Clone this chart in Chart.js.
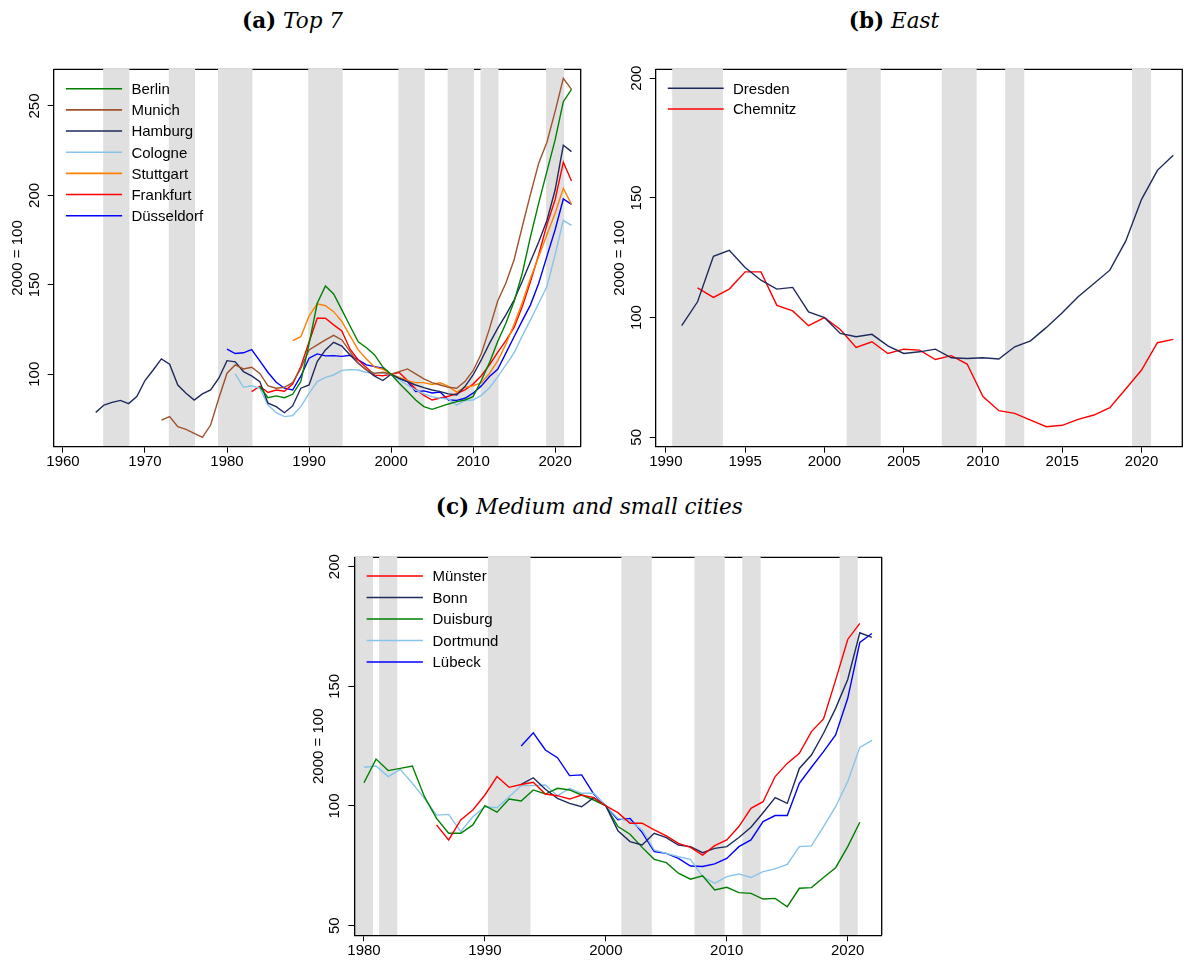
<!DOCTYPE html>
<html><head><meta charset="utf-8">
<script src="https://cdn.jsdelivr.net/npm/chart.js@4.4.1/dist/chart.umd.min.js"></script>
<style>
html,body{margin:0;padding:0;background:#fff;}
body{width:1184px;height:960px;position:relative;overflow:hidden;}
canvas{position:absolute;}
.ttl{position:absolute;white-space:nowrap;font-family:"DejaVu Serif",serif;font-size:21.5px;line-height:21.5px;color:#000;transform:translateX(-50%);}
.ttl b{font-weight:bold;font-style:normal;}
.ttl i{font-style:italic;font-weight:normal;}
</style></head><body>
<div class="ttl" style="left:292.5px;top:10.3px"><b>(a)</b> <i>Top 7</i></div>
<div class="ttl" style="left:894px;top:10.3px"><b>(b)</b> <i>East</i></div>
<div class="ttl" style="left:589.3px;top:496.3px"><b>(c)</b> <i>Medium and small cities</i></div>
<canvas id="ca" width="592" height="440" style="left:0px;top:40px"></canvas>
<canvas id="cb" width="584" height="440" style="left:600px;top:40px"></canvas>
<canvas id="cc" width="592" height="440" style="left:300px;top:520px"></canvas>
<script>
// ---------- Panel (a): Top 7 ----------
const yearsA = [1964,1965,1966,1967,1968,1969,
  1970,1971,1972,1973,1974,1975,1976,1977,1978,1979,
  1980,1981,1982,1983,1984,1985,1986,1987,1988,1989,
  1990,1991,1992,1993,1994,1995,1996,1997,1998,1999,
  2000,2001,2002,2003,2004,2005,2006,2007,2008,2009,
  2010,2011,2012,2013,2014,2015,2016,2017,2018,2019,
  2020,2021,2022];
const berlin = [null,null,null,null,null,null,
  null,null,null,null,null,null,null,null,null,null,
  null,null,null,null,93.0,86.9,87.9,86.9,88.8,95.9,
  117.0,139.7,149.4,144.9,136.0,127.0,118.2,114.8,110.8,104.0,
  100,95.0,90.3,85.6,81.9,80.4,81.9,83.4,84.7,85.6,
  87.5,96.5,106.5,118.3,128.5,140.7,156.5,177.0,195.7,213.4,
  231.0,252.4,259.3];
const munich = [null,null,null,null,null,null,
  null,null,74.4,76.3,70.7,69.2,67.0,64.7,71.6,86.6,
  100.6,105.2,103.0,103.9,100.5,93.5,92.2,92.7,95.3,103.3,
  113.6,116.4,119.2,121.8,119.2,112.6,106.1,102.4,100.5,101.1,
  100,101.5,103.0,100.2,97.4,95.3,94.0,92.7,92.2,95.9,
  102.0,111.5,125.5,141.0,151.0,164.0,182.6,200.7,218.0,229.7,
  247.0,265.5,259.3];
const hamburg = [78.7,82.8,84.3,85.4,83.6,87.5,
  96.5,102.4,108.6,105.6,94.0,89.4,85.6,89.0,91.2,97.8,
  107.6,106.9,101.5,99.1,95.9,83.8,81.9,78.5,82.3,92.2,
  94.0,107.1,113.6,117.9,115.8,110.8,106.1,102.4,99.0,96.5,
  100,97.7,95.9,94.0,92.5,91.2,90.3,89.0,88.4,93.1,
  99.6,108.0,117.3,125.7,133.2,141.5,152.0,163.0,174.0,186.0,
  203.0,228.0,224.5];
const cologne = [null,null,null,null,null,null,
  null,null,null,null,null,null,null,null,null,null,
  null,100.2,92.7,93.6,92.2,82.8,78.5,76.3,76.9,81.9,
  89.3,95.9,98.3,99.6,102.2,102.6,102.4,101.0,100.8,100.6,
  100,96.8,94.0,91.2,89.0,87.5,86.6,86.2,82.8,85.3,
  85.6,88.2,92.5,98.5,105.2,112.0,121.5,130.4,139.7,149.0,
  166.8,186.0,183.2];
const stuttgart = [null,null,null,null,null,null,
  null,null,null,null,null,null,null,null,null,null,
  null,null,null,null,null,null,null,null,118.8,121.0,
  132.5,139.4,138.3,135.0,129.5,121.5,113.6,108.5,104.0,102.8,
  100,98.3,96.4,95.3,95.3,94.3,95.2,93.2,90.0,92.6,
  93.5,95.3,100.5,107.5,116.8,128.0,140.0,153.7,165.9,178.0,
  190.0,204.0,195.0];
const frankfurt = [null,null,null,null,null,null,
  null,null,null,null,null,null,null,null,null,null,
  null,null,null,90.3,93.3,89.8,91.2,90.5,94.5,104.3,
  118.0,131.3,131.3,127.6,124.2,114.0,108.0,103.8,99.5,99.2,
  100,101.0,96.5,91.7,88.2,85.6,86.7,87.7,89.2,91.2,
  94.5,99.2,105.2,112.2,118.8,126.2,137.9,151.9,166.8,183.6,
  197.6,218.5,208.1];
const dusseldorf = [null,null,null,null,null,null,
  null,null,null,null,null,null,null,null,null,null,
  114.0,111.6,112.0,113.8,107.5,101.0,95.5,92.2,91.2,98.9,
  109.0,111.4,110.3,110.4,110.0,110.6,108.0,105.2,104.3,103.4,
  100,97.5,95.9,90.3,90.7,89.5,90.0,85.6,85.4,86.6,
  89.4,93.5,98.7,102.8,111.8,121.0,130.0,138.8,150.9,165.9,
  180.8,198.0,195.0];
const xTicksA = [1960,1970,1980,1990,2000,2010,2020];
const yTicksA = [100,150,200,250];
const bandsA = [[1964.9,1968.1],[1972.9,1976.1],[1978.9,1983.1],[1989.9,1994.1],
  [2000.9,2004.1],[2006.9,2010.1],[2010.9,2013.1],[2018.9,2021.1]];

// ---------- Panel (b): East ----------
const yearsB = [1991,1992,1993,1994,1995,1996,1997,1998,1999,2000,
  2001,2002,2003,2004,2005,2006,2007,2008,2009,2010,
  2011,2012,2013,2014,2015,2016,2017,2018,2019,2020,
  2021,2022];
const dresden = [96.6,106.6,125.6,128.1,120.9,115.6,111.9,112.6,102.4,100,
  93.4,92.0,93.0,88.2,85.0,85.7,86.8,83.2,82.9,83.2,
  82.7,87.8,90.3,95.9,102.0,108.7,114.2,119.8,131.9,149.4,
  161.5,167.8];
const chemnitz = [null,112.4,108.4,111.9,119.1,119.1,105.1,102.8,96.6,100,
  95.0,87.5,89.9,85.0,86.8,86.4,82.5,84.1,80.6,67.0,
  61.1,60.0,57.2,54.4,55.0,57.5,59.3,62.4,70.2,78.1,
  89.5,90.9];
const xTicksB = [1990,1995,2000,2005,2010,2015,2020];
const yTicksB = [50,100,150,200];
const bandsB = [[1990.4,1993.6],[2001.4,2003.55],[2007.4,2009.6],[2011.4,2012.6],[2019.4,2020.6]];

// ---------- Panel (c): Medium and small cities ----------
const yearsC = [1980,1981,1982,1983,1984,1985,1986,1987,1988,1989,
  1990,1991,1992,1993,1994,1995,1996,1997,1998,1999,
  2000,2001,2002,2003,2004,2005,2006,2007,2008,2009,
  2010,2011,2012,2013,2014,2015,2016,2017,2018,2019,
  2020,2021,2022];
const munster = [null,null,null,null,null,null,92.1,85.8,94.2,98.3,
  104.6,112.3,107.8,109.0,109.9,105.0,104.3,102.9,104.6,103.5,
  100,97.2,92.8,92.8,90.0,87.5,84.4,82.7,79.5,83.4,
  85.8,91.4,99.0,101.8,112.3,117.8,122.0,131.1,136.4,152.6,
  169.6,176.3,null];
const bonn = [null,null,null,null,null,null,null,null,null,null,
  null,null,null,109.0,111.8,107.0,103.2,101.1,99.7,103.5,
  100,89.6,85.1,83.7,88.6,86.8,83.7,83.0,80.5,82.3,
  83.0,86.8,91.1,97.2,103.5,101.1,115.7,121.3,130.4,140.8,
  152.9,172.4,170.5];
const duisburg = [109.7,119.6,114.8,115.7,116.7,103.9,94.8,88.6,88.6,92.1,
  100.1,97.4,102.9,102.1,106.7,105.0,107.4,106.7,104.6,102.5,
  100,91.4,88.2,82.7,77.7,76.3,71.9,69.4,70.8,64.9,
  66.0,63.8,63.5,61.1,61.4,57.9,65.6,65.9,70.1,74.2,
  83.0,93.2,null];
const dortmund = [116.2,116.7,112.3,115.3,109.5,103.2,96.2,96.5,89.3,95.5,
  99.7,99.3,103.9,108.5,108.5,108.8,104.3,107.4,105.3,105.3,
  100,94.8,93.7,90.0,81.6,80.2,78.8,77.7,70.5,67.7,
  70.5,71.6,70.1,72.6,73.7,75.6,83.0,83.3,91.4,99.7,
  110.2,124.5,127.4];
const lubeck = [null,null,null,null,null,null,null,null,null,null,
  null,null,null,125.1,130.6,123.4,120.2,112.7,113.0,105.0,
  100,94.2,94.8,89.0,80.9,80.2,78.1,74.9,74.7,75.8,
  78.1,83.0,85.8,93.5,96.0,96.0,109.5,116.2,122.7,129.7,
  145.0,168.4,172.1];
const xTicksC = [1980,1990,2000,2010,2020];
const yTicksC = [50,100,150,200];
const bandsC = [[1979.2,1980.75],[1981.25,1982.75],[1990.25,1993.77],[2001.28,2003.8],
  [2007.33,2009.83],[2011.28,2012.8],[2019.33,2020.83]];

// ---------- colours ----------
const C_GREEN = '#008000', C_BROWN = '#a0522d', C_NAVY = '#1f2a5c', C_LBLUE = '#87c3ea',
      C_ORANGE = '#ff8000', C_RED = '#ff0000', C_BLUE = '#0000ff';
const FONT = '"Liberation Sans", Arial, Helvetica, sans-serif';

function pts(years, vals){ return years.map((yr,i)=>({x:yr, y:vals[i]})); }
function ds(label, years, vals, color){
  return {label, data: pts(years, vals), borderColor: color, backgroundColor: color,
    borderWidth: 1.4, pointRadius: 0, pointHoverRadius: 0, fill: false, tension: 0, spanGaps: false};
}

const bandsPlugin = {
  id: 'bands',
  beforeDraw(chart, args, opts){
    const {ctx, chartArea: a} = chart;
    const x = chart.scales.x;
    ctx.save();
    ctx.strokeStyle = '#000'; ctx.lineWidth = 1.3;
    ctx.beginPath(); ctx.moveTo(a.left, a.top); ctx.lineTo(a.right, a.top); ctx.lineTo(a.right, a.bottom); ctx.stroke();
    ctx.fillStyle = '#e0e0e0';
    (opts.ranges || []).forEach(r => {
      const l = Math.max(a.left, x.getPixelForValue(r[0]));
      const rr = Math.min(a.right, x.getPixelForValue(r[1]));
      if (rr > l) ctx.fillRect(l, a.top - 1, rr - l, a.bottom - a.top + 1);
    });
    ctx.restore();
  }
};
const legendPlugin = {
  id: 'inlineLegend',
  afterDatasetsDraw(chart, args, o){
    const {ctx, chartArea: a} = chart;
    ctx.save();
    ctx.font = '15px ' + FONT;
    ctx.textAlign = 'left'; ctx.textBaseline = 'alphabetic';
    chart.data.datasets.forEach((d, i) => {
      const y = a.top + o.top + i * o.gap;
      ctx.strokeStyle = d.borderColor; ctx.lineWidth = 1.6;
      ctx.beginPath(); ctx.moveTo(a.left + o.x0, y); ctx.lineTo(a.left + o.x1, y); ctx.stroke();
      ctx.fillStyle = '#000';
      ctx.fillText(d.label, a.left + o.tx, y + 5.4);
    });
    ctx.restore();
  }
};

function makeChart(id, datasets, xr, yr, xt, yt, bands, pad, xh, leg){
  return new Chart(document.getElementById(id), {
    type: 'line',
    data: {datasets},
    plugins: [bandsPlugin, legendPlugin],
    options: {
      responsive: false, animation: false, events: [],
      layout: {padding: pad, autoPadding: false},
      plugins: {legend: {display: false}, tooltip: {enabled: false}, title: {display: false},
        bands: {ranges: bands}, inlineLegend: leg},
      scales: {
        x: {type: 'linear', min: xr[0], max: xr[1], bounds: 'data',
          afterBuildTicks: s => { s.ticks = xt.map(v => ({value: v})); },
          afterFit: s => { s.height = xh; },
          grid: {display: true, drawOnChartArea: false, drawTicks: true, tickLength: 6, color: '#000', lineWidth: 1},
          border: {display: true, color: '#000', width: 1.3},
          ticks: {color: '#000', font: {family: FONT, size: 15}, padding: 0.5, autoSkip: false,
            minRotation: 0, maxRotation: 0, callback: v => String(v)}
        },
        y: {type: 'linear', min: yr[0], max: yr[1], bounds: 'data',
          afterBuildTicks: s => { s.ticks = yt.map(v => ({value: v})); },
          afterFit: s => { s.width = 53.7; },
          grid: {display: true, drawOnChartArea: false, drawTicks: true, tickLength: 6, color: '#000', lineWidth: 1},
          border: {display: true, color: '#000', width: 1.3},
          ticks: {color: '#000', font: {family: FONT, size: 15}, padding: 0.6, autoSkip: false,
            minRotation: 90, maxRotation: 90, crossAlign: 'center', callback: v => String(v)},
          title: {display: true, text: '2000 = 100', color: '#000', font: {family: FONT, size: 15},
            padding: {top: 8.8, bottom: 0}}
        }
      }
    }
  });
}

makeChart('ca', [
  ds('Berlin', yearsA, berlin, C_GREEN),
  ds('Munich', yearsA, munich, C_BROWN),
  ds('Hamburg', yearsA, hamburg, C_NAVY),
  ds('Cologne', yearsA, cologne, C_LBLUE),
  ds('Stuttgart', yearsA, stuttgart, C_ORANGE),
  ds('Frankfurt', yearsA, frankfurt, C_RED),
  ds('Düsseldorf', yearsA, dusseldorf, C_BLUE)
], [1958.87, 2023.12], [59.5, 270.5], xTicksA, yTicksA, bandsA,
 {left: 0, top: 29.3, right: 11.3, bottom: 3.3}, 30,
 {top: 19.4, gap: 21.17, x0: 12.2, x1: 68.4, tx: 77.7});

makeChart('cb', [
  ds('Dresden', yearsB, dresden, C_NAVY),
  ds('Chemnitz', yearsB, chemnitz, C_RED)
], [1989.36, 2022.57], [46.07, 203.7], xTicksB, yTicksB, bandsB,
 {left: 2, top: 29.3, right: 1.7, bottom: 3.3}, 30,
 {top: 19.0, gap: 20.7, x0: 12.1, x1: 68.0, tx: 77.3});

makeChart('cc', [
  ds('Münster', yearsC, munster, C_RED),
  ds('Bonn', yearsC, bonn, C_NAVY),
  ds('Duisburg', yearsC, duisburg, C_GREEN),
  ds('Dortmund', yearsC, dortmund, C_LBLUE),
  ds('Lübeck', yearsC, lubeck, C_BLUE)
], [1979.2, 2022.81], [46.0, 203.93], xTicksC, yTicksC, bandsC,
 {left: 0.6, top: 37.3, right: 10.3, bottom: 2.8}, 22,
 {top: 18.7, gap: 21.5, x0: 12.3, x1: 68.6, tx: 78.2});
</script>
</body></html>
